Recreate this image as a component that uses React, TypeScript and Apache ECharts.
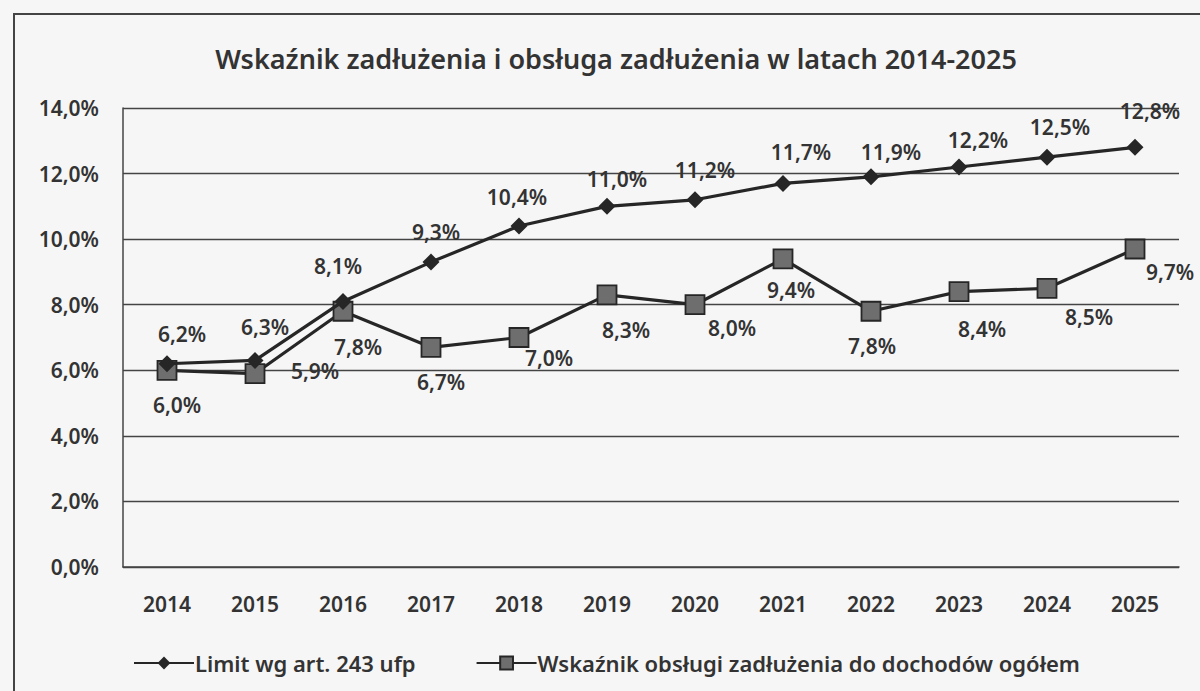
import React, { useEffect, useRef } from "react";
import * as echarts from "echarts";

const years = ["2014", "2015", "2016", "2017", "2018", "2019", "2020", "2021", "2022", "2023", "2024", "2025"];
const limitValues = [6.2, 6.3, 8.1, 9.3, 10.4, 11.0, 11.2, 11.7, 11.9, 12.2, 12.5, 12.8];
const serviceValues = [6.0, 5.9, 7.8, 6.7, 7.0, 8.3, 8.0, 9.4, 7.8, 8.4, 8.5, 9.7];
const seriesNames = ["Limit wg art. 243 ufp", "Wskaźnik obsługi zadłużenia do dochodów ogółem"];
const titleText = "Wskaźnik zadłużenia i obsługa zadłużenia w latach 2014-2025";

// label placement (styling only): offset of the label centre from its point, in px
const limitLabelOffsets: [number, number][] = [
  [15, -30], [10, -33], [-5, -35], [5, -30], [-2, -29], [10, -27],
  [10, -30], [18, -31], [20, -25], [19, -27], [13, -30], [15, -36],
];
const serviceLabelOffsets: [number, number][] = [
  [10, 35], [60, -3], [15, 36], [10, 35], [30, 20], [19, 35],
  [37, 23], [8, 31], [1, 35], [23, 37], [42, 29], [35, 23],
];

const FONT = "'Noto Sans', 'Open Sans', sans-serif";
const INK = "#333";
const FW = 600;
const FS = 21;
const fmt = (v: number) => v.toFixed(1).replace(".", ",") + "%";

export default function App() {
  const ref = useRef<HTMLDivElement>(null);
  useEffect(() => {
    document.body.style.margin = "0";
    const chart = echarts.init(ref.current!, null, { renderer: "svg" });
    const labelBase = {
      show: true,
      position: "inside",
      fontSize: FS,
      fontWeight: FW,
      color: INK,
      fontFamily: FONT,
      formatter: (p: any) => fmt(p.value),
    };
    chart.setOption({
      animation: false,
      backgroundColor: "#f6f6f6",
      textStyle: { fontFamily: FONT, color: INK },
      title: {
        text: titleText,
        left: 611,
        textAlign: "center",
        top: 40,
        textStyle: { fontFamily: FONT, fontSize: 27, fontWeight: FW, color: INK },
      },
      graphic: [
        {
          type: "rect",
          shape: { x: 14, y: 14, width: 1220, height: 720 },
          style: { fill: "none", stroke: "#444", lineWidth: 2 },
          silent: true,
        },
      ],
      legend: {
        left: 128,
        top: 647,
        itemGap: 60,
        itemWidth: 60,
        itemHeight: 16,
        textStyle: { fontFamily: FONT, fontSize: 22, fontWeight: FW, color: INK, padding: [0, 0, 0, -4] },
        data: seriesNames,
      },
      grid: { left: 123, right: 21, top: 108, bottom: 124 },
      xAxis: {
        type: "category",
        data: years,
        boundaryGap: true,
        axisLine: { show: true, lineStyle: { color: "#444", width: 1.5 } },
        axisTick: { show: false },
        axisLabel: { margin: 26, fontSize: FS, fontWeight: FW, color: INK, fontFamily: FONT },
      },
      yAxis: {
        type: "value",
        min: 0,
        max: 14,
        interval: 2,
        axisLine: { show: true, lineStyle: { color: "#444", width: 1.5 } },
        axisTick: { show: false },
        axisLabel: {
          margin: 24,
          fontSize: FS,
          fontWeight: FW,
          color: INK,
          fontFamily: FONT,
          formatter: (v: number) => fmt(v),
        },
        splitLine: { show: true, lineStyle: { color: "#444", width: 1.3 } },
      },
      series: [
        {
          name: seriesNames[0],
          type: "line",
          data: limitValues.map((v, i) => ({ value: v, label: { offset: limitLabelOffsets[i] } })),
          symbol: "diamond",
          symbolSize: 17,
          itemStyle: { color: "#262626" },
          lineStyle: { color: "#262626", width: 3.2 },
          label: labelBase,
          z: 3,
        },
        {
          name: seriesNames[1],
          type: "line",
          data: serviceValues.map((v, i) => ({ value: v, label: { offset: serviceLabelOffsets[i] } })),
          symbol: "rect",
          symbolSize: 19,
          itemStyle: { color: "#6e6e6e", borderColor: "#262626", borderWidth: 1.8 },
          lineStyle: { color: "#262626", width: 3.2 },
          label: labelBase,
          z: 2,
        },
      ],
    });
    return () => chart.dispose();
  }, []);
  return <div ref={ref} style={{ width: 1200, height: 691 }} />;
}
